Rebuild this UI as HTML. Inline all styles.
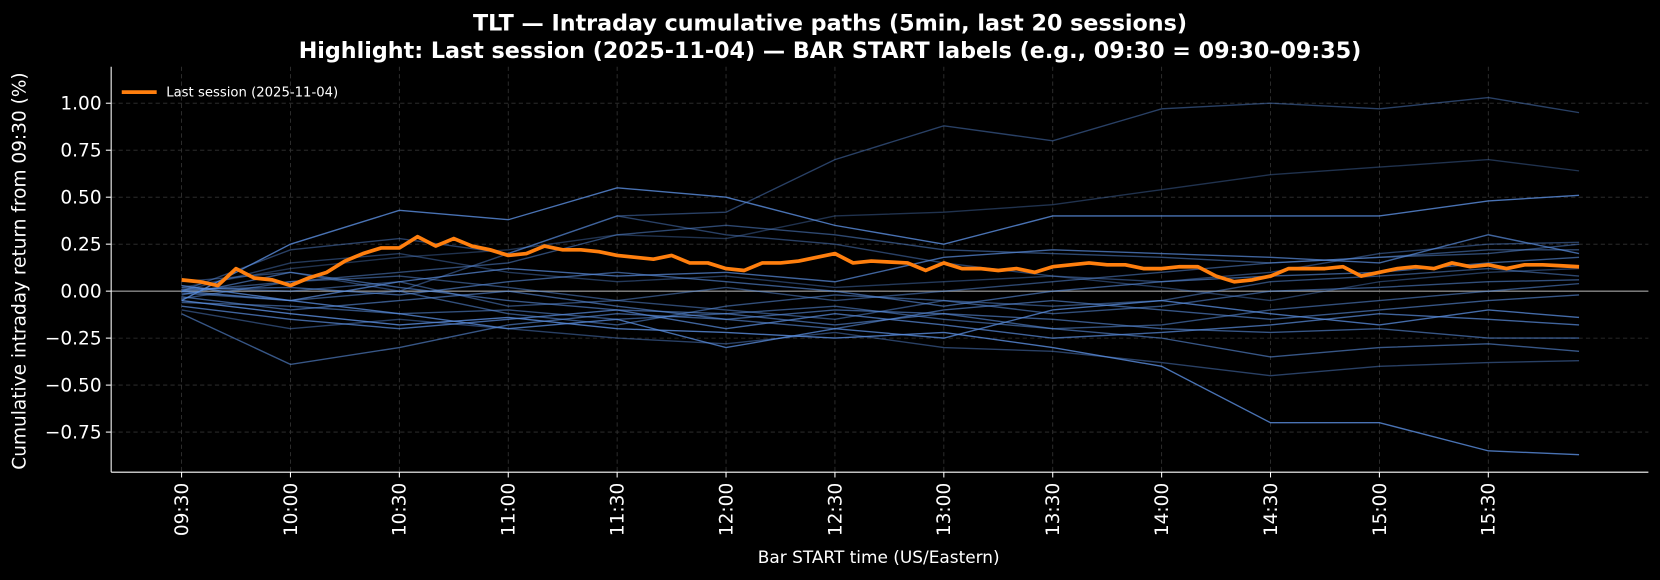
<!DOCTYPE html>
<html><head><meta charset="utf-8"><style>
body{margin:0;background:#000;}
svg{display:block;font-family:"DejaVu Sans","Liberation Sans",sans-serif;}
</style></head><body>
<svg id="chart" width="1660" height="580" viewBox="0 0 1660 580">
<rect width="1660" height="580" fill="#000"/>
<g transform="scale(1.0587)">
<text x="784" y="29" fill="#fff" font-size="21" font-weight="bold" text-anchor="middle">TLT — Intraday cumulative paths (5min, last 20 sessions)</text>
<text x="784" y="55" fill="#fff" font-size="21" font-weight="bold" text-anchor="middle">Highlight: Last session (2025-11-04) — BAR START labels (e.g., 09:30 = 09:30–09:35)</text>
<g id="grid"></g>
<g id="bg"></g>
<g id="hl"></g>
<g id="axes"></g>
<text x="0" y="0" transform="translate(24,256) rotate(-90)" fill="#fff" font-size="17.5" text-anchor="middle">Cumulative intraday return from 09:30 (%)</text>
<text x="830" y="532" fill="#fff" font-size="16" text-anchor="middle">Bar START time (US/Eastern)</text>
<g>
<line x1="115" y1="87" x2="148" y2="87" stroke="#ff7f0e" stroke-width="3.5"/>
<text x="157" y="91" fill="#fff" font-size="12.5">Last session (2025-11-04)</text>
</g>
</g>
</svg>
<script>
const nBars = 78;
const xTickLabels = ["09:30","10:00","10:30","11:00","11:30","12:00","12:30","13:00","13:30","14:00","14:30","15:00","15:30"];
const yTicks = [-0.75,-0.5,-0.25,0,0.25,0.5,0.75,1.0];
const yTickLabels = ["−0.75","−0.50","−0.25","0.00","0.25","0.50","0.75","1.00"];
const lastSession = [0.06,0.05,0.03,0.12,0.07,0.06,0.03,0.07,0.10,0.16,0.20,0.23,0.23,0.29,0.24,0.28,0.24,0.22,0.19,0.20,0.24,0.22,0.22,0.21,0.19,0.18,0.17,0.19,0.15,0.15,0.12,0.11,0.15,0.15,0.16,0.18,0.20,0.15,0.16,0.155,0.15,0.11,0.15,0.12,0.12,0.11,0.12,0.10,0.13,0.14,0.15,0.14,0.14,0.12,0.12,0.13,0.13,0.08,0.05,0.06,0.08,0.12,0.12,0.12,0.13,0.08,0.10,0.12,0.13,0.12,0.15,0.13,0.14,0.12,0.14,0.14,0.135,0.13];
const bgIdx = [0,6,12,18,24,30,36,42,48,54,60,66,72,77];
const bgSeries = [
[0.0,0.22,0.28,0.20,0.40,0.42,0.70,0.88,0.80,0.97,1.00,0.97,1.03,0.95],
[0.02,0.12,0.18,0.22,0.30,0.28,0.40,0.42,0.46,0.54,0.62,0.66,0.70,0.64],
[-0.05,0.25,0.43,0.38,0.55,0.50,0.35,0.25,0.40,0.40,0.40,0.40,0.48,0.51],
[-0.05,-0.12,-0.18,-0.14,-0.20,-0.22,-0.25,-0.22,-0.30,-0.40,-0.70,-0.70,-0.85,-0.87],
[-0.10,-0.20,-0.15,-0.20,-0.25,-0.28,-0.22,-0.30,-0.32,-0.38,-0.45,-0.40,-0.38,-0.37],
[-0.12,-0.39,-0.30,-0.18,-0.12,-0.15,-0.10,-0.12,-0.20,-0.25,-0.35,-0.30,-0.28,-0.32],
[0.00,0.05,0.10,0.15,0.30,0.35,0.30,0.22,0.20,0.18,0.15,0.18,0.20,0.25],
[0.0,-0.05,0.05,0.12,0.08,0.10,0.05,0.18,0.22,0.20,0.18,0.15,0.30,0.20],
[-0.02,0.10,0.02,-0.05,-0.10,-0.12,-0.18,-0.12,-0.15,-0.20,-0.22,-0.20,-0.25,-0.25],
[0.03,-0.05,-0.12,-0.20,-0.15,-0.30,-0.20,-0.25,-0.10,-0.05,-0.12,-0.18,-0.10,-0.14],
[-0.04,0.05,0.08,0.02,-0.05,-0.10,-0.15,-0.05,-0.08,-0.05,0.05,0.08,0.12,0.08],
[0.01,0.02,-0.02,0.05,0.10,0.05,0.00,-0.08,0.00,0.05,0.08,0.10,0.15,0.18],
[-0.06,-0.08,-0.12,-0.10,-0.15,-0.12,-0.08,-0.15,-0.20,-0.18,-0.10,-0.05,0.00,0.04],
[0.00,0.15,0.20,0.10,0.05,0.08,0.02,0.05,0.08,0.02,-0.05,0.05,0.10,0.12],
[-0.08,-0.15,-0.20,-0.15,-0.10,-0.20,-0.12,-0.18,-0.25,-0.22,-0.18,-0.12,-0.15,-0.18],
[0.02,0.00,0.05,-0.08,-0.05,0.02,-0.05,0.00,0.05,0.10,0.15,0.18,0.22,0.22],
[-0.03,-0.10,-0.05,0.00,-0.08,-0.15,-0.20,-0.10,-0.05,-0.10,-0.15,-0.10,-0.05,-0.02],
[0.05,0.10,0.00,0.20,0.40,0.30,0.25,0.15,0.08,0.05,0.10,0.20,0.25,0.26],
[-0.01,-0.05,0.00,-0.12,-0.18,-0.08,-0.02,-0.05,-0.12,-0.08,0.00,0.02,0.05,0.06]
];
const ns="http://www.w3.org/2000/svg";
const L=105,R=1557,T=63,B=446;
function xs(i){return 171.5+i*(1491.5-171.5)/(nBars-1);}
function ys(v){return 275-v*177.5;}
function mk(tag,attrs,parent){const e=document.createElementNS(ns,tag);for(const k in attrs)e.setAttribute(k,attrs[k]);parent.appendChild(e);return e;}
const grid=document.getElementById('grid'),axes=document.getElementById('axes'),bg=document.getElementById('bg'),hl=document.getElementById('hl');
yTicks.forEach((v,i)=>{
 const g=mk('line',{x1:L,x2:R,y1:ys(v),y2:ys(v),stroke:'#333',"stroke-dasharray":'4,3',"stroke-width":0.8},grid);
 
 
 const t=mk('line',{x1:L-5,x2:L,y1:ys(v),y2:ys(v),stroke:'#fff'},axes);
 
 
 const tx=mk('text',{x:L-9,y:ys(v)+6,fill:'#fff',"font-size":17.5,"text-anchor":'end'},axes);
 tx.textContent=yTickLabels[i];
 
 
});
xTickLabels.forEach((lab,i)=>{
 const x=xs(i*6);
 const g=mk('line',{x1:x,x2:x,y1:T,y2:B,stroke:'#333',"stroke-dasharray":'4,3',"stroke-width":0.8},grid);
 
 
 const t=mk('line',{x1:x,x2:x,y1:B,y2:B+5,stroke:'#fff'},axes);
 
 
 const tx=mk('text',{transform:`translate(${x+6},${B+10}) rotate(-90)`,fill:'#fff',"font-size":17.5,"text-anchor":'end'},axes);
 tx.textContent=lab;
 
 
});
const zl=mk('line',{x1:L,x2:R,y1:ys(0),y2:ys(0),stroke:'#888',"stroke-width":1.3},grid);


const alphas=[0.45,0.35,0.8,0.8,0.45,0.6,0.5,0.7,0.6,0.75,0.5,0.6,0.55,0.4,0.7,0.5,0.6,0.45,0.55];
bgSeries.forEach((s,k)=>{
 const p=mk('polyline',{points:s.map((v,j)=>xs(bgIdx[j])+','+ys(v)).join(' '),fill:'none',stroke:'#5b8fe0',"stroke-opacity":alphas[k],"stroke-width":1.3},bg);
 
 
});
const hp=mk('polyline',{points:lastSession.map((v,i)=>xs(i)+','+ys(v)).join(' '),fill:'none',stroke:'#ff7f0e',"stroke-width":3.5,"stroke-linejoin":'round'},hl);


const la=mk('line',{x1:L,x2:L,y1:T,y2:B,stroke:'#fff',"stroke-width":1},axes);


const ba=mk('line',{x1:L,x2:R,y1:B,y2:B,stroke:'#fff',"stroke-width":1},axes);


</script>
</body></html>
